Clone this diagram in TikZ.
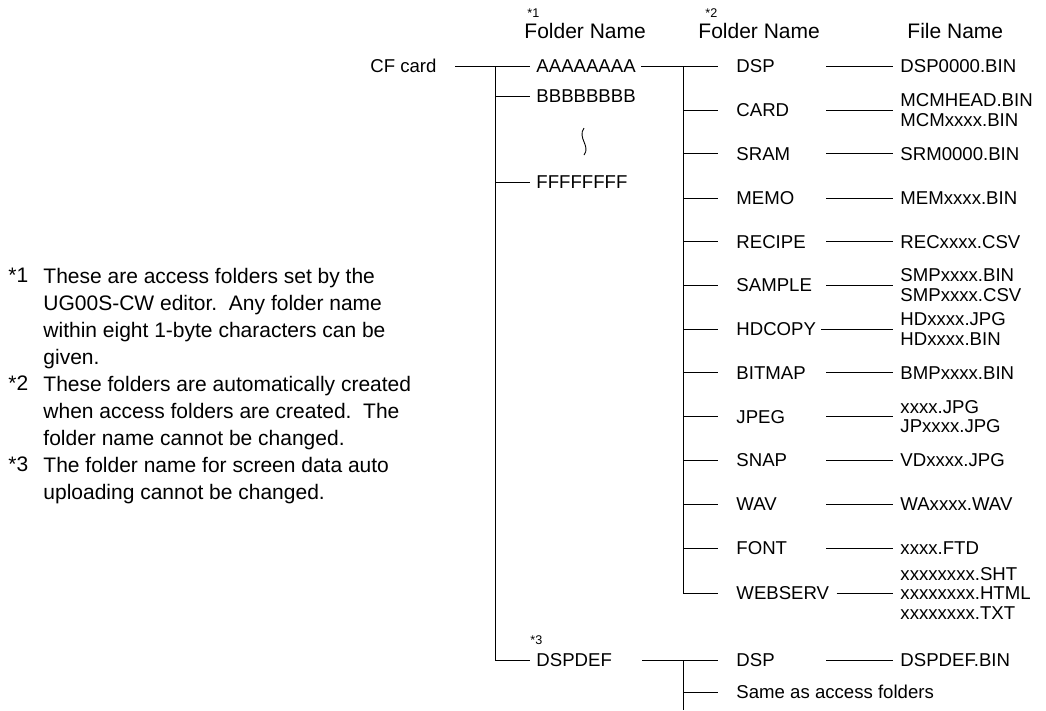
\documentclass[tikz,border=0pt]{standalone}
\usepackage{fontspec}
\setmainfont{Liberation Sans}
\frenchspacing
\begin{document}
\begin{tikzpicture}[x=1pt,y=-1pt,line width=0.9pt,
  lbl/.style={inner sep=0pt,anchor=west,text height=13.3pt,text depth=0pt,font=\fontsize{18.6}{19.5}\selectfont},
  grp/.style={inner sep=0pt,anchor=west,align=left,font=\fontsize{18.6}{19.5}\selectfont},
  hdr/.style={inner sep=0pt,anchor=west,text height=15pt,text depth=0pt,font=\fontsize{21}{24}\selectfont},
  starmark/.style={inner sep=0pt,anchor=west,text height=9pt,text depth=0pt,font=\fontsize{12.6}{14}\selectfont},
  note/.style={inner sep=0pt,anchor=north west,align=left,font=\fontsize{21}{27}\selectfont},
]
\useasboundingbox (0,0) rectangle (1046,710);
% headers
\node[hdr] (h1) at (524,31) {Folder Name};
\node[starmark] (h1s) at (527,13) {*1};
\node[hdr] (h2) at (698,31) {Folder Name};
\node[starmark] (h2s) at (705,13) {*2};
\node[hdr] (h3) at (907,31) {File Name};
% level 0/1
\node[lbl,anchor=east] (cf) at (437,66) {CF card};
\node[lbl] (a) at (536,66) {AAAAAAAA};
\node[lbl] (b) at (536,96) {BBBBBBBB};
\node[lbl] (f) at (536,182) {FFFFFFFF};
\node[lbl] (dd) at (536,660) {DSPDEF};
\node[starmark] (s3) at (530,640) {*3};
% level 2
\node[lbl] (dsp) at (736,66) {DSP};
\node[lbl] (card) at (736,110) {CARD};
\node[lbl] (sram) at (736,153.5) {SRAM};
\node[lbl] (memo) at (736,198) {MEMO};
\node[lbl] (recipe) at (736,241.5) {RECIPE};
\node[lbl] (sample) at (736,285) {SAMPLE};
\node[lbl] (hdcopy) at (736,329) {HDCOPY};
\node[lbl] (bitmap) at (736,372.5) {BITMAP};
\node[lbl] (jpeg) at (736,416.5) {JPEG};
\node[lbl] (snap) at (736,460) {SNAP};
\node[lbl] (wav) at (736,504) {WAV};
\node[lbl] (fnt) at (736,548) {FONT};
\node[lbl] (web) at (736,593) {WEBSERV};
\node[lbl] (dsp2) at (736,660) {DSP};
\node[lbl] (same) at (736,692) {Same as access folders};
% files
\node[lbl] (fdsp) at (900,66) {DSP0000.BIN};
\node[grp] (fcard) at (900,110) {MCMHEAD.BIN\\MCMxxxx.BIN};
\node[lbl] (fsram) at (900,153.5) {SRM0000.BIN};
\node[lbl] (fmemo) at (900,198) {MEMxxxx.BIN};
\node[lbl] (frecipe) at (900,241.5) {RECxxxx.CSV};
\node[grp] (fsample) at (900,285) {SMPxxxx.BIN\\SMPxxxx.CSV};
\node[grp] (fhdcopy) at (900,329) {HDxxxx.JPG\\HDxxxx.BIN};
\node[lbl] (fbitmap) at (900,372.5) {BMPxxxx.BIN};
\node[grp] (fjpeg) at (900,416.5) {xxxx.JPG\\JPxxxx.JPG};
\node[lbl] (fsnap) at (900,460) {VDxxxx.JPG};
\node[lbl] (fwav) at (900,504) {WAxxxx.WAV};
\node[lbl] (ffnt) at (900,548) {xxxx.FTD};
\node[grp] (fweb) at (900,593) {xxxxxxxx.SHT\\xxxxxxxx.HTML\\xxxxxxxx.TXT};
\node[lbl] (fdsp2) at (900,660) {DSPDEF.BIN};
% junctions
\coordinate (v1) at (495,66);
\coordinate (v2) at (683,66);
\coordinate (v3) at (683,660);
\coordinate (vend) at (683,710);
\coordinate (c3) at (826,0);
% level 0/1 connectors
\draw[shorten <=18pt,shorten >=6pt] (cf.east) -- (a.west);
\draw (v1) |- ([xshift=-6pt]dd.west);
\draw (v1 |- b.west) -- ([xshift=-6pt]b.west);
\draw (v1 |- f.west) -- ([xshift=-6pt]f.west);
\draw (584,128) .. controls (577,138) and (591,146) .. (584,155);
% level 2 connectors
\draw[shorten <=5pt,shorten >=18pt] (a.east) -- (dsp.west);
\draw (v2) |- ([xshift=-18pt]web.west);
\foreach \n in {card,sram,memo,recipe,sample,hdcopy,bitmap,jpeg,snap,wav,fnt}
  \draw (v2 |- \n.west) -- ([xshift=-18pt]\n.west);
\draw[shorten <=30pt,shorten >=18pt] (dd.east) -- (dsp2.west);
\draw (v3) -- (vend);
\draw (v3 |- same.west) -- ([xshift=-18pt]same.west);
% file connectors
\foreach \n in {dsp,card,sram,memo,recipe,sample,bitmap,jpeg,snap,wav,fnt,dsp2}
  \draw (c3 |- \n.west) -- ([xshift=-7pt]f\n.west);
\draw ([xshift=5pt]hdcopy.east) -- ([xshift=-7pt]fhdcopy.west);
\draw ([xshift=7pt]web.east) -- ([xshift=-7pt]fweb.west);
% footnotes
\node[note] (n1m) at (8,267.5) {*1};
\node[note] (n1) at (43,267.5) {These are access folders set by the\\UG00S-CW editor.~ Any folder name\\within eight 1-byte characters can be\\given.};
\node[note] (n2m) at (8,375.5) {*2};
\node[note] (n2) at (43,375.5) {These folders are automatically created\\when access folders are created.~ The\\folder name cannot be changed.};
\node[note] (n3m) at (8,456.5) {*3};
\node[note] (n3) at (43,456.5) {The folder name for screen data auto\\uploading cannot be changed.};
\end{tikzpicture}
\end{document}
